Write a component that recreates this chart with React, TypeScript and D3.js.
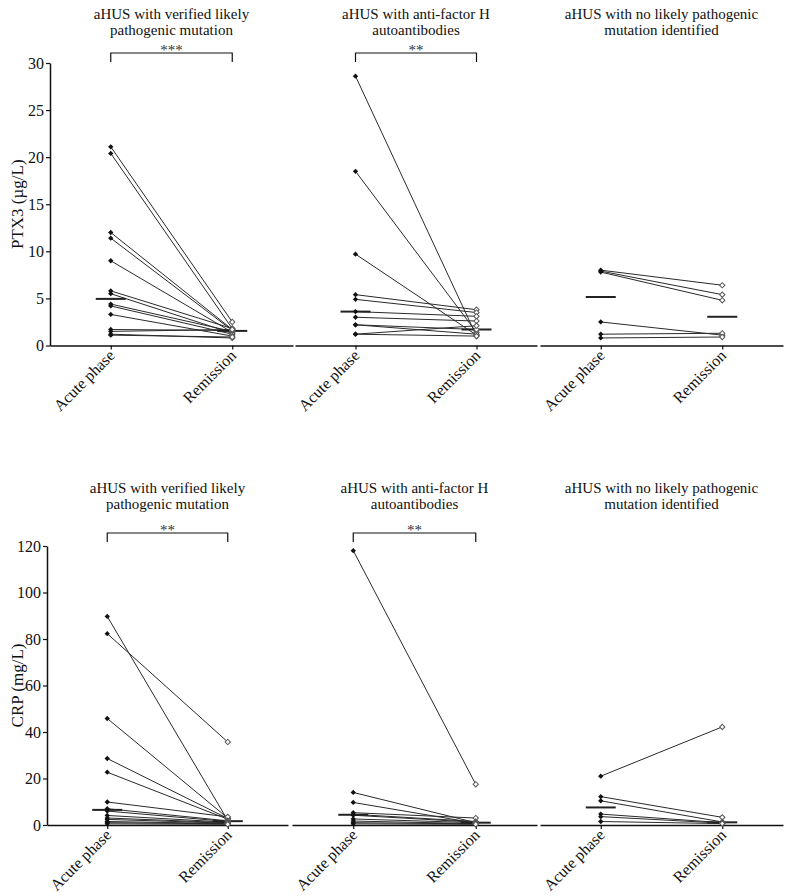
import React, { useRef, useEffect } from "react";
import * as d3 from "d3";

// x categories
const phases = ["Acute phase", "Remission"];

// panel titles (two lines each)
const groupTitles = [
  ["aHUS with verified likely", "pathogenic mutation"],
  ["aHUS with anti-factor H", "autoantibodies"],
  ["aHUS with no likely pathogenic", "mutation identified"],
];

// significance marks above each panel
const ptx3Sig = ["***", "**", ""];
const crpSig = ["**", "**", ""];

// PTX3 (µg/L), paired by patient (acute[i] -> remission[i])
const ptx3MutAcute = [21.1, 20.4, 12.0, 11.4, 9.0, 5.8, 5.5, 4.4, 4.2, 3.3, 1.7, 1.5, 1.2, 1.1];
const ptx3MutRemission = [2.5, 1.8, 1.7, 1.6, 1.4, 1.8, 1.3, 1.5, 1.2, 1.0, 1.6, 1.7, 0.8, 0.9];
const ptx3AbAcute = [28.6, 18.5, 9.7, 5.4, 4.9, 3.6, 3.0, 2.2, 2.2, 1.2, 1.2];
const ptx3AbRemission = [1.0, 1.4, 1.1, 3.8, 3.5, 3.1, 2.6, 1.2, 1.7, 2.1, 1.0];
const ptx3NoneAcute = [8.0, 7.9, 7.8, 2.5, 1.2, 0.8];
const ptx3NoneRemission = [6.4, 5.4, 4.8, 1.1, 1.3, 0.9];

// CRP (mg/L), paired by patient
const crpMutAcute = [89.7, 82.3, 45.8, 28.6, 22.7, 9.9, 7.0, 6.0, 4.1, 3.0, 2.4, 1.5, 1.0, 0.5];
const crpMutRemission = [2.0, 35.7, 3.0, 2.8, 2.5, 3.5, 1.8, 1.5, 1.2, 1.0, 0.8, 0.6, 0.5, 0.3];
const crpAbAcute = [118, 14.0, 9.7, 5.3, 4.6, 4.2, 2.6, 1.7, 1.0, 0.5];
const crpAbRemission = [17.5, 1.0, 0.8, 3.0, 1.5, 1.2, 1.0, 0.6, 0.5, 0.3];
const crpNoneAcute = [21.0, 12.2, 10.4, 4.7, 3.6, 1.5];
const crpNoneRemission = [42.2, 3.3, 1.3, 1.0, 0.8, 0.6];

const FONT = "'Liberation Serif', 'Times New Roman', serif";

const rows = [
  {
    label: "PTX3 (µg/L)",
    max: 30,
    step: 5,
    yTop: 63,
    yBase: 345.5,
    titleY: 19,
    bracketY: 53,
    panels: [[50, 293], [295, 537], [540, 783]],
    sig: ptx3Sig,
    data: [
      [ptx3MutAcute, ptx3MutRemission],
      [ptx3AbAcute, ptx3AbRemission],
      [ptx3NoneAcute, ptx3NoneRemission],
    ],
  },
  {
    label: "CRP (mg/L)",
    max: 120,
    step: 20,
    yTop: 546,
    yBase: 825,
    titleY: 493,
    bracketY: 533,
    panels: [[47, 288], [292, 537], [540, 783]],
    sig: crpSig,
    data: [
      [crpMutAcute, crpMutRemission],
      [crpAbAcute, crpAbRemission],
      [crpNoneAcute, crpNoneRemission],
    ],
  },
];

function App() {
  const svgRef = useRef<SVGSVGElement>(null);

  useEffect(() => {
    const svg = d3.select(svgRef.current);
    svg.selectAll("*").remove();
    svg.style("font-family", FONT);

    const marker = d3.symbol().type(d3.symbolSquare).size(14);

    rows.forEach((row) => {
      const y = d3.scaleLinear().domain([0, row.max]).range([row.yBase, row.yTop]);

      // y axis (first panel only)
      const yAxis = d3
        .axisLeft(y)
        .tickValues(d3.range(0, row.max + 0.001, row.step))
        .tickSize(4)
        .tickSizeOuter(0)
        .tickPadding(2);
      const yg = svg
        .append("g")
        .attr("transform", `translate(${row.panels[0][0]},0)`)
        .call(yAxis);
      yg.select(".domain").attr("stroke", "#111").attr("stroke-width", 1.5);
      yg.selectAll(".tick line").attr("stroke", "#111").attr("stroke-width", 1.2);
      yg.selectAll(".tick text")
        .attr("font-family", FONT)
        .attr("font-size", 16)
        .attr("fill", "#111");

      svg
        .append("text")
        .attr("transform", `translate(23,${(row.yTop + row.yBase) / 2}) rotate(-90)`)
        .attr("text-anchor", "middle")
        .attr("font-size", 17)
        .attr("fill", "#111")
        .text(row.label);

      row.panels.forEach((ext, pi) => {
        const x = d3.scalePoint().domain(phases).range(ext).padding(0.5);
        const [acute, rem] = row.data[pi];
        const xa = x(phases[0])!;
        const xr = x(phases[1])!;
        const g = svg.append("g");

        // x axis
        const xAxis = d3.axisBottom(x).tickSize(4).tickSizeOuter(0).tickFormat(() => "");
        const xg = g.append("g").attr("transform", `translate(0,${row.yBase})`).call(xAxis);
        xg.select(".domain").attr("stroke", "#111").attr("stroke-width", 1.5);
        xg.selectAll(".tick line").attr("stroke", "#111").attr("stroke-width", 1.2);

        // rotated tick labels
        phases.forEach((p) => {
          g.append("text")
            .attr("transform", `translate(${x(p)! + 5},${row.yBase + 11}) rotate(-45)`)
            .attr("text-anchor", "end")
            .attr("font-size", 16)
            .attr("fill", "#111")
            .text(p);
        });

        // title
        const cx = (xa + xr) / 2;
        groupTitles[pi].forEach((t, li) => {
          g.append("text")
            .attr("x", cx)
            .attr("y", row.titleY + li * 16)
            .attr("text-anchor", "middle")
            .attr("font-size", 15)
            .attr("fill", "#111")
            .text(t);
        });

        // significance bracket
        if (row.sig[pi]) {
          g.append("path")
            .attr(
              "d",
              `M${xa},${row.bracketY + 9}V${row.bracketY}H${xr}V${row.bracketY + 9}`
            )
            .attr("fill", "none")
            .attr("stroke", "#111")
            .attr("stroke-width", 1.2);
          g.append("text")
            .attr("x", cx)
            .attr("y", row.bracketY + 2)
            .attr("text-anchor", "middle")
            .attr("font-size", 15)
            .attr("fill", "#333")
            .text(row.sig[pi]);
        }

        // paired lines
        const pairs = acute.map((a, i) => [a, rem[i]]);
        g.selectAll(".pair")
          .data(pairs)
          .enter()
          .append("line")
          .attr("x1", xa)
          .attr("x2", xr)
          .attr("y1", (d) => y(d[0]))
          .attr("y2", (d) => y(d[1]))
          .attr("stroke", "#2a2a2a")
          .attr("stroke-width", 1);

        // medians
        const medA = d3.median(acute)!;
        const medR = d3.median(rem)!;
        [
          [xa, medA],
          [xr, medR],
        ].forEach(([mx, mv]) => {
          g.append("line")
            .attr("x1", mx - 15)
            .attr("x2", mx + 15)
            .attr("y1", y(mv))
            .attr("y2", y(mv))
            .attr("stroke", "#222")
            .attr("stroke-width", 2);
        });

        // remission markers: open diamonds
        g.selectAll(".rem")
          .data(rem)
          .enter()
          .append("path")
          .attr("d", marker)
          .attr("transform", (d) => `translate(${xr},${y(d)}) rotate(45)`)
          .attr("fill", "#fff")
          .attr("stroke", "#555")
          .attr("stroke-width", 1);

        // acute markers: filled diamonds
        g.selectAll(".acu")
          .data(acute)
          .enter()
          .append("path")
          .attr("d", marker)
          .attr("transform", (d) => `translate(${xa},${y(d)}) rotate(45)`)
          .attr("fill", "#111");
      });
    });
  }, []);

  return (
    <div style={{ position: "absolute", left: 0, top: 0 }}>
      <svg ref={svgRef} width={785} height={896} style={{ display: "block", background: "#fff" }}></svg>
    </div>
  );
}

export default App;
